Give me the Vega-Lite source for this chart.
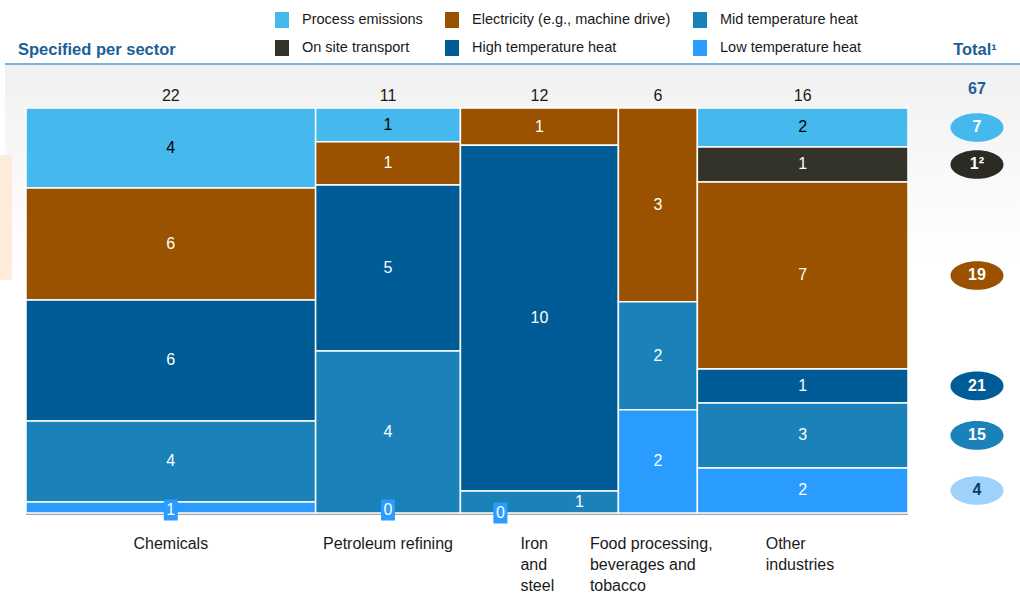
{
  "$schema": "https://vega.github.io/schema/vega-lite/v6.json",
  "width": 1020,
  "height": 593,
  "autosize": "none",
  "padding": 0,
  "background": "white",
  "config": {"view": {"stroke": null}},
  "datasets": {
    "segments": [
      {"sector": "Chemicals", "category": "Process emissions", "value": 4.35, "label": "4"},
      {"sector": "Chemicals", "category": "On site transport", "value": 0, "label": null},
      {"sector": "Chemicals", "category": "Electricity (e.g., machine drive)", "value": 6.08, "label": "6"},
      {"sector": "Chemicals", "category": "High temperature heat", "value": 6.57, "label": "6"},
      {"sector": "Chemicals", "category": "Mid temperature heat", "value": 4.40, "label": "4"},
      {"sector": "Chemicals", "category": "Low temperature heat", "value": 0.60, "label": "1"},
      {"sector": "Petroleum refining", "category": "Process emissions", "value": 0.92, "label": "1"},
      {"sector": "Petroleum refining", "category": "On site transport", "value": 0, "label": null},
      {"sector": "Petroleum refining", "category": "Electricity (e.g., machine drive)", "value": 1.17, "label": "1"},
      {"sector": "Petroleum refining", "category": "High temperature heat", "value": 4.51, "label": "5"},
      {"sector": "Petroleum refining", "category": "Mid temperature heat", "value": 4.40, "label": "4"},
      {"sector": "Petroleum refining", "category": "Low temperature heat", "value": 0, "label": "0"},
      {"sector": "Iron and steel", "category": "Process emissions", "value": 0, "label": null},
      {"sector": "Iron and steel", "category": "On site transport", "value": 0, "label": null},
      {"sector": "Iron and steel", "category": "Electricity (e.g., machine drive)", "value": 1.10, "label": "1"},
      {"sector": "Iron and steel", "category": "High temperature heat", "value": 10.25, "label": "10"},
      {"sector": "Iron and steel", "category": "Mid temperature heat", "value": 0.65, "label": "1"},
      {"sector": "Iron and steel", "category": "Low temperature heat", "value": 0, "label": "0"},
      {"sector": "Food processing, beverages and tobacco", "category": "Process emissions", "value": 0, "label": null},
      {"sector": "Food processing, beverages and tobacco", "category": "On site transport", "value": 0, "label": null},
      {"sector": "Food processing, beverages and tobacco", "category": "Electricity (e.g., machine drive)", "value": 2.87, "label": "3"},
      {"sector": "Food processing, beverages and tobacco", "category": "High temperature heat", "value": 0, "label": null},
      {"sector": "Food processing, beverages and tobacco", "category": "Mid temperature heat", "value": 1.60, "label": "2"},
      {"sector": "Food processing, beverages and tobacco", "category": "Low temperature heat", "value": 1.53, "label": "2"},
      {"sector": "Other industries", "category": "Process emissions", "value": 1.54, "label": "2"},
      {"sector": "Other industries", "category": "On site transport", "value": 1.38, "label": "1"},
      {"sector": "Other industries", "category": "Electricity (e.g., machine drive)", "value": 7.39, "label": "7"},
      {"sector": "Other industries", "category": "High temperature heat", "value": 1.34, "label": "1"},
      {"sector": "Other industries", "category": "Mid temperature heat", "value": 2.57, "label": "3"},
      {"sector": "Other industries", "category": "Low temperature heat", "value": 1.78, "label": "2"}
    ],
    "totals": [
      {"category": "Process emissions", "total": "7"},
      {"category": "On site transport", "total": "1²"},
      {"category": "Electricity (e.g., machine drive)", "total": "19"},
      {"category": "High temperature heat", "total": "21"},
      {"category": "Mid temperature heat", "total": "15"},
      {"category": "Low temperature heat", "total": "4"}
    ]
  },
  "layer": [
    {
      "data": {"values": [{}]},
      "layer": [
        {
          "mark": {"type": "rect", "fill": {"gradient": "linear", "x1": 0, "y1": 0, "x2": 0, "y2": 1, "stops": [{"offset": 0, "color": "#f1f1f1"}, {"offset": 1, "color": "#ffffff"}]}},
          "encoding": {
            "x": {"datum": -1.595, "type": "quantitative", "scale": {"domain": [-1.97506, 75.508], "nice": false, "zero": false}, "axis": null},
            "x2": {"datum": 75.508},
            "y": {"datum": 1.1062, "type": "quantitative", "scale": {"domain": [-0.19753, 1.26667], "nice": false, "zero": false}, "axis": null},
            "y2": {"datum": 0.6247}
          }
        },
        {
          "mark": {"type": "rect", "fill": "#fdebdc"},
          "encoding": {
            "x": {"datum": -1.975, "type": "quantitative"},
            "x2": {"datum": -1.063},
            "y": {"datum": 0.884, "type": "quantitative"},
            "y2": {"datum": 0.5753}
          }
        },
        {
          "mark": {"type": "rule", "stroke": "#7eb1dc", "strokeWidth": 2},
          "encoding": {
            "x": {"datum": -1.595, "type": "quantitative"},
            "x2": {"datum": 75.508},
            "y": {"datum": 1.1086, "type": "quantitative"}
          }
        },
        {
          "mark": {"type": "rule", "stroke": "#a6a6a6", "strokeWidth": 2},
          "encoding": {
            "x": {"datum": 0, "type": "quantitative"},
            "x2": {"datum": 67},
            "y": {"datum": -0.0025, "type": "quantitative"}
          }
        },
        {
          "mark": {"type": "text", "align": "left", "baseline": "middle", "font": "Liberation Sans", "fontSize": 16.5, "fontWeight": "bold", "color": "#1c5f98", "text": "Specified per sector"},
          "encoding": {
            "x": {"datum": -0.6077, "type": "quantitative"},
            "y": {"datum": 1.14321, "type": "quantitative"}
          }
        },
        {
          "mark": {"type": "text", "align": "center", "baseline": "middle", "font": "Liberation Sans", "fontSize": 16.5, "fontWeight": "bold", "color": "#1c5f98", "text": "Total¹"},
          "encoding": {
            "x": {"datum": 72.09, "type": "quantitative"},
            "y": {"datum": 1.14321, "type": "quantitative"}
          }
        }
      ]
    },
    {
      "data": {"name": "segments"},
      "transform": [
        {"calculate": "indexof(['Chemicals','Petroleum refining','Iron and steel','Food processing, beverages and tobacco','Other industries'], datum.sector)", "as": "sectorOrder"},
        {"calculate": "indexof(['Process emissions','On site transport','Electricity (e.g., machine drive)','High temperature heat','Mid temperature heat','Low temperature heat'], datum.category)", "as": "catOrder"},
        {"joinaggregate": [{"op": "sum", "field": "value", "as": "sectorTotal"}], "groupby": ["sector"]},
        {"stack": "value", "groupby": ["sector"], "sort": [{"field": "catOrder", "order": "descending"}], "offset": "normalize", "as": ["y0", "y1"]},
        {"stack": "sectorTotal", "groupby": ["category"], "sort": [{"field": "sectorOrder", "order": "ascending"}], "as": ["x0", "x1"]},
        {"calculate": "(datum.x0 + datum.x1) / 2", "as": "xm"},
        {"calculate": "(datum.y0 + datum.y1) / 2", "as": "ym"}
      ],
      "layer": [
        {
          "transform": [{"filter": "datum.value > 0"}],
          "mark": {"type": "rect", "stroke": "#ffffff", "strokeWidth": 1.5},
          "encoding": {
            "x": {"field": "x0", "type": "quantitative"},
            "x2": {"field": "x1"},
            "y": {"field": "y0", "type": "quantitative"},
            "y2": {"field": "y1"},
            "color": {
              "field": "category",
              "type": "nominal",
              "scale": {
                "domain": ["Process emissions", "Electricity (e.g., machine drive)", "Mid temperature heat", "On site transport", "High temperature heat", "Low temperature heat"],
                "range": ["#45b8ee", "#9a5200", "#1a82b8", "#33332a", "#005c96", "#2a9bff"]
              },
              "legend": {
                "orient": "none",
                "legendX": 274,
                "legendY": 12,
                "direction": "horizontal",
                "columns": 3,
                "title": null,
                "symbolType": "M-0.875,-1L0.875,-1L0.875,1L-0.875,1Z",
                "symbolSize": 256,
                "symbolStrokeWidth": 0,
                "symbolOpacity": 1,
                "labelFont": "Liberation Sans",
                "labelFontSize": 14.5,
                "labelColor": "#1a1a1a",
                "labelOffset": 12,
                "labelLimit": 300,
                "rowPadding": 12,
                "columnPadding": 21,
                "padding": 0
              }
            }
          }
        },
        {
          "transform": [{"filter": "datum.label != null && datum.value > 0.7"}],
          "mark": {"type": "text", "align": "center", "baseline": "middle", "font": "Liberation Sans", "fontSize": 16},
          "encoding": {
            "x": {"field": "xm", "type": "quantitative"},
            "y": {"field": "ym", "type": "quantitative"},
            "text": {"field": "label", "type": "nominal"},
            "color": {"condition": {"test": "datum.category === 'Process emissions'", "value": "#000000"}, "value": "#ffffff"}
          }
        },
        {
          "transform": [{"filter": "datum.sector === 'Iron and steel' && datum.category === 'Mid temperature heat'"}],
          "mark": {"type": "text", "align": "center", "baseline": "middle", "font": "Liberation Sans", "fontSize": 16, "color": "#ffffff", "dx": 40},
          "encoding": {
            "x": {"field": "xm", "type": "quantitative"},
            "y": {"field": "ym", "type": "quantitative"},
            "text": {"field": "label", "type": "nominal"}
          }
        },
        {
          "transform": [{"filter": "datum.category === 'Low temperature heat' && (datum.sector === 'Chemicals' || datum.sector === 'Petroleum refining')"}],
          "mark": {"type": "point", "filled": true, "opacity": 1, "fill": "#2a9bff", "strokeWidth": 0, "size": 441, "shape": "M-0.667,-1.286L0.667,-1.286L0.667,0.714L-0.667,0.714Z"},
          "encoding": {
            "x": {"field": "xm", "type": "quantitative"},
            "y": {"field": "y0", "type": "quantitative"}
          }
        },
        {
          "transform": [{"filter": "datum.category === 'Low temperature heat' && (datum.sector === 'Chemicals' || datum.sector === 'Petroleum refining')"}],
          "mark": {"type": "text", "align": "center", "baseline": "middle", "font": "Liberation Sans", "fontSize": 16, "color": "#ffffff", "dy": -3},
          "encoding": {
            "x": {"field": "xm", "type": "quantitative"},
            "y": {"field": "y0", "type": "quantitative"},
            "text": {"field": "label", "type": "nominal"}
          }
        },
        {
          "transform": [{"filter": "datum.category === 'Low temperature heat' && datum.sector === 'Iron and steel'"}],
          "mark": {"type": "point", "filled": true, "opacity": 1, "fill": "#2a9bff", "strokeWidth": 0, "size": 441, "shape": "M-4.381,-1L-3.048,-1L-3.048,1L-4.381,1Z"},
          "encoding": {
            "x": {"field": "xm", "type": "quantitative"},
            "y": {"field": "y0", "type": "quantitative"}
          }
        },
        {
          "transform": [{"filter": "datum.category === 'Low temperature heat' && datum.sector === 'Iron and steel'"}],
          "mark": {"type": "text", "align": "center", "baseline": "middle", "font": "Liberation Sans", "fontSize": 16, "color": "#ffffff", "dx": -39},
          "encoding": {
            "x": {"field": "xm", "type": "quantitative"},
            "y": {"field": "y0", "type": "quantitative"},
            "text": {"field": "label", "type": "nominal"}
          }
        },
        {
          "transform": [{"filter": "datum.category === 'Process emissions'"}],
          "mark": {"type": "text", "align": "center", "baseline": "middle", "font": "Liberation Sans", "fontSize": 16, "color": "#1a1a1a", "dy": -12},
          "encoding": {
            "x": {"field": "xm", "type": "quantitative"},
            "y": {"datum": 1, "type": "quantitative"},
            "text": {"field": "sectorTotal", "type": "quantitative", "format": ".0f"}
          }
        },
        {
          "transform": [{"filter": "datum.category === 'Process emissions' && (datum.sector === 'Chemicals' || datum.sector === 'Petroleum refining')"}],
          "mark": {"type": "text", "align": "center", "baseline": "top", "font": "Liberation Sans", "fontSize": 16, "color": "#1a1a1a"},
          "encoding": {
            "x": {"field": "xm", "type": "quantitative"},
            "y": {"datum": -0.0568, "type": "quantitative"},
            "text": {"field": "sector", "type": "nominal"}
          }
        },
        {
          "transform": [{"filter": "datum.category === 'Process emissions' && datum.sector === 'Iron and steel'"}],
          "mark": {"type": "text", "align": "left", "baseline": "top", "font": "Liberation Sans", "fontSize": 16, "lineHeight": 21, "color": "#1a1a1a", "dx": -19},
          "encoding": {
            "x": {"field": "xm", "type": "quantitative"},
            "y": {"datum": -0.0568, "type": "quantitative"},
            "text": {"value": ["Iron", "and", "steel"]}
          }
        },
        {
          "transform": [{"filter": "datum.category === 'Process emissions' && datum.sector === 'Food processing, beverages and tobacco'"}],
          "mark": {"type": "text", "align": "left", "baseline": "top", "font": "Liberation Sans", "fontSize": 16, "lineHeight": 21, "color": "#1a1a1a", "dx": -68},
          "encoding": {
            "x": {"field": "xm", "type": "quantitative"},
            "y": {"datum": -0.0568, "type": "quantitative"},
            "text": {"value": ["Food processing,", "beverages and", "tobacco"]}
          }
        },
        {
          "transform": [{"filter": "datum.category === 'Process emissions' && datum.sector === 'Other industries'"}],
          "mark": {"type": "text", "align": "left", "baseline": "top", "font": "Liberation Sans", "fontSize": 16, "lineHeight": 21, "color": "#1a1a1a", "dx": -37},
          "encoding": {
            "x": {"field": "xm", "type": "quantitative"},
            "y": {"datum": -0.0568, "type": "quantitative"},
            "text": {"value": ["Other", "industries"]}
          }
        },
        {
          "transform": [
            {"filter": "datum.sector === 'Other industries'"},
            {"lookup": "category", "from": {"data": {"name": "totals"}, "key": "category", "fields": ["total"]}}
          ],
          "mark": {"type": "point", "filled": true, "opacity": 1, "strokeWidth": 0, "size": 2809, "shape": "M-1,0A1,0.54,0,1,0,1,0A1,0.54,0,1,0,-1,0Z"},
          "encoding": {
            "x": {"datum": 72.24, "type": "quantitative"},
            "y": {"field": "ym", "type": "quantitative"},
            "fill": {
              "field": "category",
              "type": "nominal",
              "scale": {
                "domain": ["Process emissions", "On site transport", "Electricity (e.g., machine drive)", "High temperature heat", "Mid temperature heat", "Low temperature heat"],
                "range": ["#45b8ee", "#2b2b23", "#9a5200", "#005c96", "#1a82b8", "#9fd2fb"]
              },
              "legend": null
            }
          }
        },
        {
          "transform": [
            {"filter": "datum.sector === 'Other industries'"},
            {"lookup": "category", "from": {"data": {"name": "totals"}, "key": "category", "fields": ["total"]}}
          ],
          "mark": {"type": "text", "align": "center", "baseline": "middle", "font": "Liberation Sans", "fontSize": 16, "fontWeight": "bold"},
          "encoding": {
            "x": {"datum": 72.24, "type": "quantitative"},
            "y": {"field": "ym", "type": "quantitative"},
            "text": {"field": "total", "type": "nominal"},
            "color": {"condition": {"test": "datum.category === 'Low temperature heat'", "value": "#0d3a66"}, "value": "#ffffff"}
          }
        },
        {
          "transform": [{"aggregate": [{"op": "sum", "field": "value", "as": "grand"}]}],
          "mark": {"type": "text", "align": "center", "baseline": "middle", "font": "Liberation Sans", "fontSize": 16, "fontWeight": "bold", "color": "#1c5f98"},
          "encoding": {
            "x": {"datum": 72.24, "type": "quantitative"},
            "y": {"datum": 1.0469, "type": "quantitative"},
            "text": {"field": "grand", "type": "quantitative", "format": ".0f"}
          }
        }
      ]
    }
  ]
}
